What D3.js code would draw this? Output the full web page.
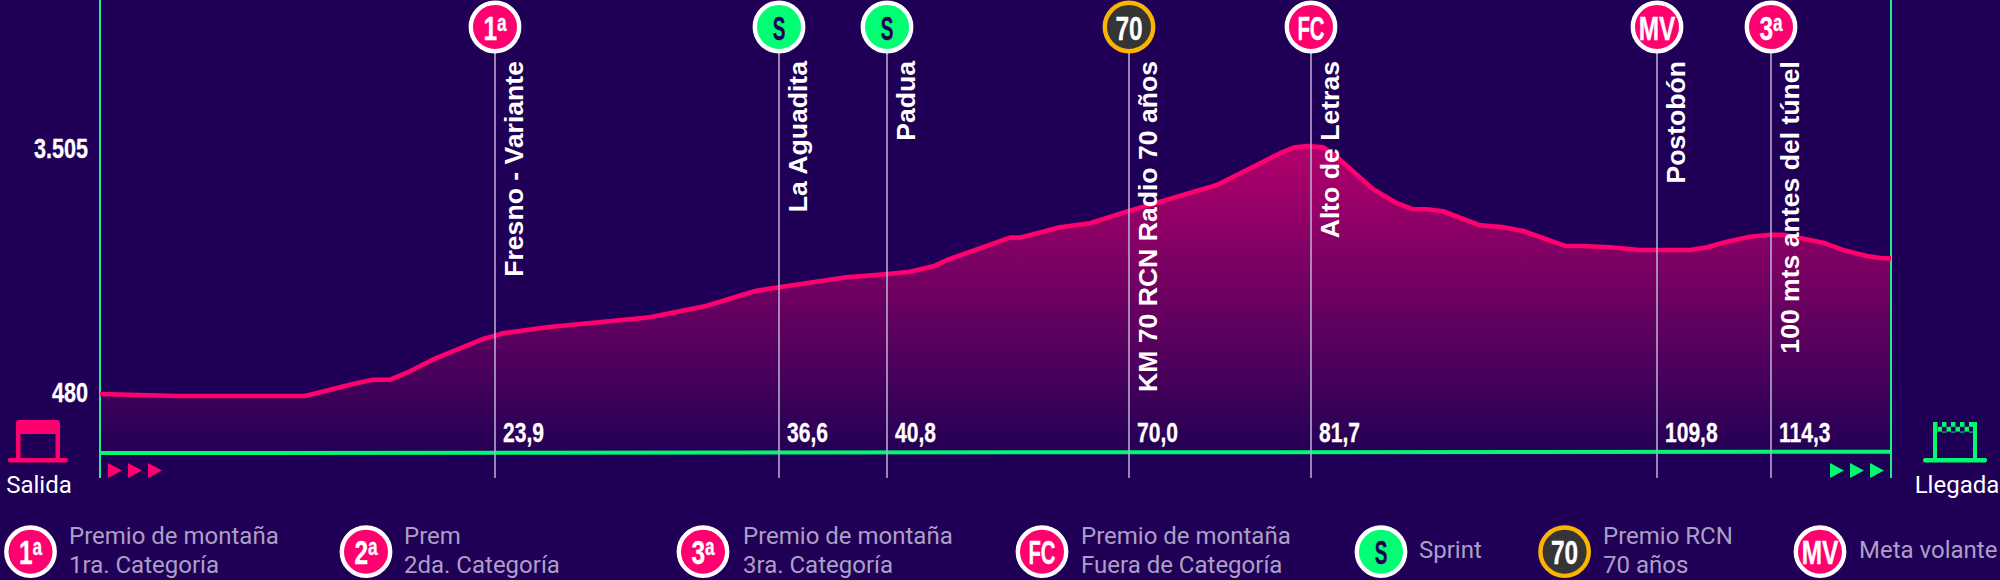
<!DOCTYPE html>
<html><head><meta charset="utf-8">
<script src="https://cdn.jsdelivr.net/npm/d3@7/dist/d3.min.js"></script>
<style>html,body{margin:0;padding:0;background:#200056;overflow:hidden}svg{display:block}</style>
</head><body><div id="c"></div>
<script>
// position along the drawn profile (the source axis is not linear in km)
const profilePos = [0,78,205,253,273,290,307,332,382,394,403,447,550,606,624,655,679,743,788,810,835,847,910,920,960,990,1029,1117,1180,1195,1208,1212,1223,1238,1273,1297,1313,1327,1343,1380,1402,1423,1465,1483,1510,1540,1590,1607,1627,1650,1671,1683,1700,1723,1743,1767,1780,1791];
const elevation  = [480,456,456,602,654,654,740,895,1147,1188,1221,1294,1416,1554,1621,1737,1782,1899,1944,1972,2045,2115,2387,2387,2514,2563,2713,3030,3417,3490,3505,3500,3490,3359,2977,2807,2733,2733,2709,2538,2517,2469,2286,2286,2270,2237,2237,2270,2338,2399,2423,2423,2383,2326,2237,2164,2139,2131];
const baselinePos = [0,1791];
const baselineElev = [-240,-224];
const yTicks = [3505,480];

const markerCode = ["1a","S","S","70","FC","MV","3a"];
const markerType = ["mount","sprint","sprint","rcn","mount","mount","mount"];
const markerPos  = [395,679,787,1029,1211,1557,1671];
const markerKm   = [23.9,36.6,40.8,70.0,81.7,109.8,114.3];
const markerName = ["Fresno - Variante","La Aguadita","Padua","KM 70 RCN Radio 70 años","Alto de Letras","Postobón","100 mts antes del túnel"];

const legendCode = ["1a","2a","3a","FC","S","70","MV"];
const legendType = ["mount","mount","mount","mount","sprint","rcn","mount"];
const legendLine1 = ["Premio de montaña","Prem","Premio de montaña","Premio de montaña","Sprint","Premio RCN","Meta volante"];
const legendLine2 = ["1ra. Categoría","2da. Categoría","3ra. Categoría","Fuera de Categoría","","70 años",""];

const W=2000,H=580, BG="#200056", PINK="#ff006e", GREEN="#00f96f";
const svg=d3.select("#c").append("svg").attr("width",W).attr("height",H).style("background",BG);
const x=d3.scaleLinear().domain([0,1791]).range([100,1891]);
const y=d3.scaleLinear().domain([480,3505]).range([394,146]);
const BOLD="'Liberation Sans',Arial,sans-serif", ROB="Roboto,sans-serif";

const defs=svg.append("defs");
const g=defs.append("linearGradient").attr("id","fillG").attr("gradientUnits","userSpaceOnUse").attr("x1",0).attr("x2",0).attr("y1",146).attr("y2",453);
g.append("stop").attr("offset",0).attr("stop-color","#b4006c");
g.append("stop").attr("offset",1).attr("stop-color","#230055");
const pat=defs.append("pattern").attr("id","chk").attr("patternUnits","userSpaceOnUse").attr("x",1933).attr("y",422).attr("width",9).attr("height",9.6);
pat.append("rect").attr("width",9).attr("height",9.6).attr("fill",BG);
pat.append("rect").attr("width",4.5).attr("height",4.8).attr("fill",GREEN);
pat.append("rect").attr("x",4.5).attr("y",4.8).attr("width",4.5).attr("height",4.8).attr("fill",GREEN);

const pts=profilePos.map((p,i)=>[p,elevation[i]]);
svg.append("path").datum(pts).attr("fill","url(#fillG)")
  .attr("d",d3.area().x(d=>x(d[0])).y0(453).y1(d=>y(d[1])));

// baseline
svg.append("path").datum(baselinePos.map((p,i)=>[p,baselineElev[i]]))
  .attr("fill","none").attr("stroke",GREEN).attr("stroke-width",4)
  .attr("d",d3.line().x(d=>x(d[0])).y(d=>y(d[1])));

// frame verticals
[0,1791].forEach(p=>svg.append("line").attr("x1",x(p)).attr("x2",x(p)).attr("y1",0).attr("y2",478).attr("stroke","#1cf08a").attr("stroke-width",2));

// profile line
svg.append("path").datum(pts).attr("fill","none").attr("stroke",PINK).attr("stroke-width",4.6).attr("stroke-linejoin","round")
  .attr("d",d3.line().x(d=>x(d[0])).y(d=>y(d[1])));

// y axis
const loc=d3.formatLocale({decimal:",",thousands:".",grouping:[3],currency:["",""]});
const ax=svg.append("g").attr("transform","translate(100,0)")
  .call(d3.axisLeft(y).tickValues(yTicks).tickSize(0).tickPadding(0).tickFormat(loc.format(",d")));
ax.select(".domain").remove();
ax.selectAll("text").attr("fill","#fff").attr("font-family",BOLD).attr("font-weight",700).attr("font-size",27)
  .attr("dy",0).attr("x",0).attr("y",0).attr("stroke","#fff").attr("stroke-width",.3)
  .attr("transform",d=>`translate(-12,${d===3505?11:7}) scale(.8,1)`);

// marker lines
svg.selectAll(".ml").data(markerPos).join("line").attr("class","ml")
  .attr("x1",d=>x(d)).attr("x2",d=>x(d)).attr("y1",27).attr("y2",478).attr("stroke","#b5abcd").attr("stroke-width",1.6);

function badge(sel,cx,cy,code,type){
  const gg=sel.append("g").attr("transform",`translate(${cx},${cy})`);
  const fill=type==="sprint"?"#00ff74":type==="rcn"?"#353535":PINK;
  const st=type==="rcn"?"#fbb400":"#fff";
  const tc=type==="sprint"?BG:"#fff";
  gg.append("circle").attr("r",24.2).attr("fill",fill).attr("stroke",st).attr("stroke-width",4.4);
  const sx=code==="S"?0.56:code==="FC"?0.6:0.72;
  const t=gg.append("text").attr("text-anchor","middle").attr("fill",tc)
    .attr("font-family",BOLD).attr("font-weight",700).attr("font-size",34).attr("stroke",tc).attr("stroke-width",.3)
    .attr("transform",`translate(0,12.5) scale(${sx},1)`);
  if(code.endsWith("a")){
    t.append("tspan").text(code[0]);
    t.append("tspan").attr("font-size",24).attr("dy",-9).text("a");
  } else t.text(code);
}
markerPos.forEach((p,i)=>badge(svg,x(p),27,markerCode[i],markerType[i]));

// rotated names
svg.selectAll(".nm").data(markerPos).join("text").attr("class","nm")
  .attr("transform",d=>`translate(${x(d)+28},61) rotate(-90)`).attr("text-anchor","end")
  .attr("fill","#fff").attr("font-family",BOLD).attr("font-weight",700).attr("font-size",26.6)
  .text((d,i)=>markerName[i]);

// km labels
svg.selectAll(".km").data(markerPos).join("text").attr("class","km")
  .attr("transform",d=>`translate(${x(d)+8},442) scale(.78,1)`).attr("fill","#fff").attr("font-family",BOLD).attr("font-weight",700).attr("font-size",27)
  .attr("stroke","#fff").attr("stroke-width",.3)
  .text((d,i)=>loc.format(",.1f")(markerKm[i]));

// direction arrows
const arrow=d3.line();
[108,128,148].forEach(a=>svg.append("path").attr("d",arrow([[a,463],[a+14,470.5],[a,478]])+"Z").attr("fill",PINK));
[1830,1850,1870].forEach(a=>svg.append("path").attr("d",arrow([[a,463],[a+14,470.5],[a,478]])+"Z").attr("fill",GREEN));

// Salida icon
const si=svg.append("g").attr("fill",PINK);
si.append("path").attr("d","M16 434V423q0-3 3-3h38q3 0 3 3v11z");
si.append("rect").attr("x",16).attr("y",434).attr("width",4.5).attr("height",26);
si.append("rect").attr("x",55.5).attr("y",434).attr("width",4.5).attr("height",26);
si.append("rect").attr("x",8).attr("y",458).attr("width",60).attr("height",4.4).attr("rx",2);
// Llegada icon
const li=svg.append("g").attr("fill",GREEN);
li.append("rect").attr("x",1933).attr("y",422).attr("width",44).attr("height",10.5).attr("fill","url(#chk)");
li.append("rect").attr("x",1933).attr("y",422).attr("width",4).attr("height",38);
li.append("rect").attr("x",1973).attr("y",422).attr("width",4).attr("height",38);
li.append("rect").attr("x",1923).attr("y",458).attr("width",64).attr("height",4.4).attr("rx",2);

[["Salida",39],["Llegada",1957]].forEach(d=>svg.append("text").attr("x",d[1]).attr("y",493).attr("text-anchor","middle")
  .attr("fill","#fff").attr("font-family",ROB).attr("font-size",24).text(d[0]));

// legend
const legCx=[30.5,366,703,1042,1381,1564.6,1820];
const legTx=[69,404,743,1081,1419,1603,1859];
legendCode.forEach((c,i)=>{
  badge(svg,legCx[i],551.7,c,legendType[i]);
  const two=legendLine2[i]!=="";
  const t=svg.append("text").attr("fill","#ab9fc6").attr("font-family",ROB).attr("font-size",24);
  t.append("tspan").attr("x",legTx[i]).attr("y",two?543.5:558).text(legendLine1[i]);
  if(two) t.append("tspan").attr("x",legTx[i]).attr("y",572.5).text(legendLine2[i]);
});
</script></body></html>
